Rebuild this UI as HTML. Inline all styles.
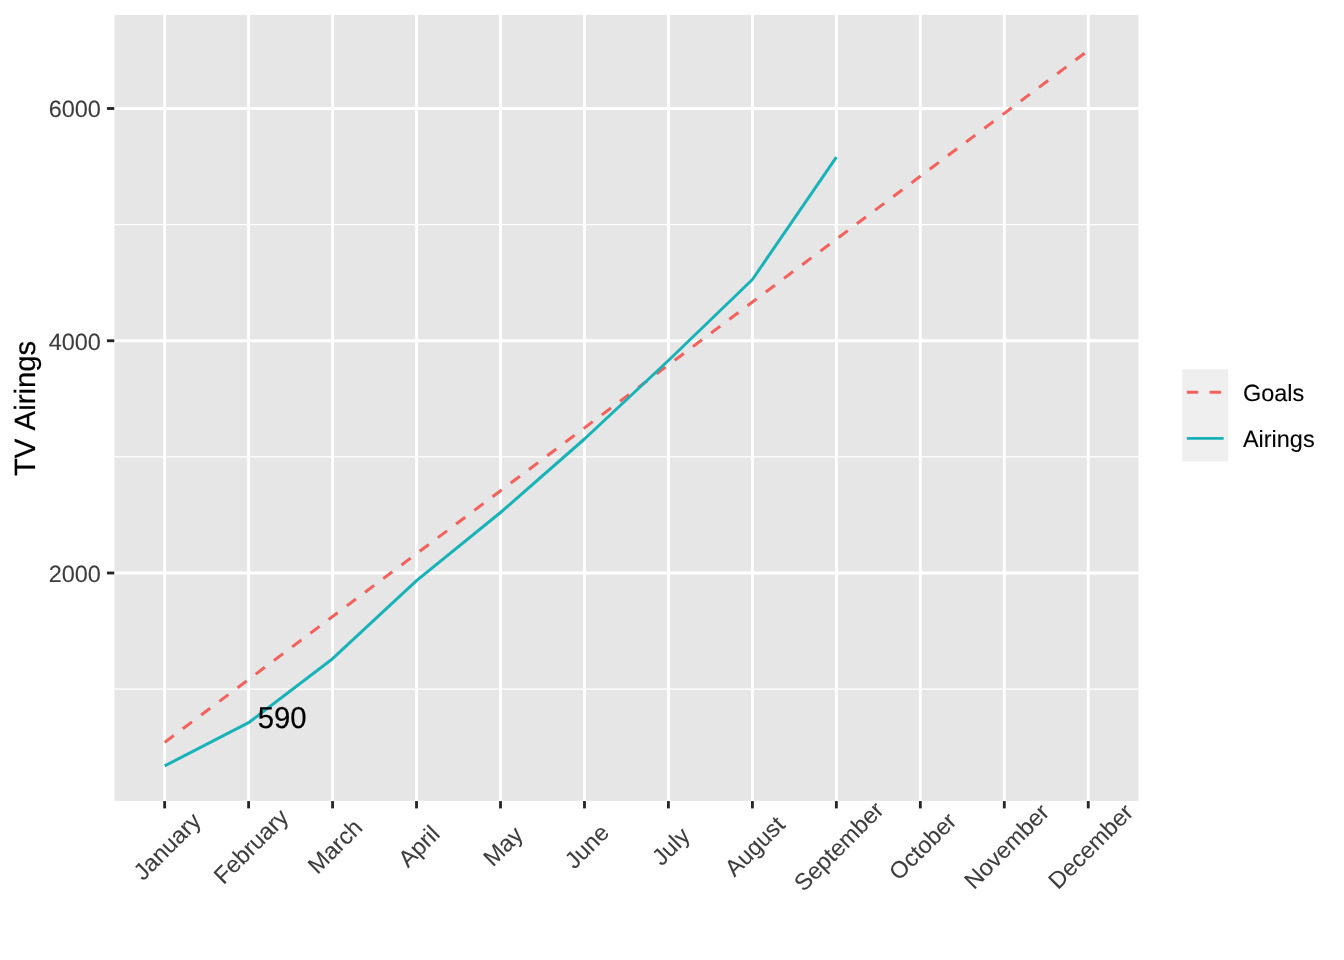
<!DOCTYPE html>
<html lang="en"><head><meta charset="utf-8"><title>TV Airings</title>
<style>html,body{margin:0;padding:0;background:#fff;overflow:hidden}body{width:1344px;height:960px}svg{display:block}text{font-family:"Liberation Sans",sans-serif;font-kerning:none;text-rendering:geometricPrecision;stroke-linejoin:round}</style>
</head><body>
<svg width="1344" height="960" viewBox="0 0 1344 960">
<rect x="0" y="0" width="1344" height="960" fill="#ffffff"/>
<rect x="114.50" y="14.90" width="1023.95" height="785.95" fill="#E6E6E6"/>
<g stroke="#ffffff" stroke-width="1.423" fill="none">
<line x1="114.27" x2="1138.63" y1="689.12" y2="689.12"/>
<line x1="114.27" x2="1138.63" y1="456.88" y2="456.88"/>
<line x1="114.27" x2="1138.63" y1="224.62" y2="224.62"/>
</g>
<g stroke="#ffffff" stroke-width="2.845" fill="none">
<line x1="114.27" x2="1138.63" y1="573.00" y2="573.00"/>
<line x1="114.27" x2="1138.63" y1="340.75" y2="340.75"/>
<line x1="114.27" x2="1138.63" y1="108.50" y2="108.50"/>
<line x1="164.65" x2="164.65" y1="14.67" y2="801.07"/>
<line x1="248.61" x2="248.61" y1="14.67" y2="801.07"/>
<line x1="332.58" x2="332.58" y1="14.67" y2="801.07"/>
<line x1="416.54" x2="416.54" y1="14.67" y2="801.07"/>
<line x1="500.51" x2="500.51" y1="14.67" y2="801.07"/>
<line x1="584.47" x2="584.47" y1="14.67" y2="801.07"/>
<line x1="668.43" x2="668.43" y1="14.67" y2="801.07"/>
<line x1="752.40" x2="752.40" y1="14.67" y2="801.07"/>
<line x1="836.36" x2="836.36" y1="14.67" y2="801.07"/>
<line x1="920.33" x2="920.33" y1="14.67" y2="801.07"/>
<line x1="1004.29" x2="1004.29" y1="14.67" y2="801.07"/>
<line x1="1088.25" x2="1088.25" y1="14.67" y2="801.07"/>
</g>
<polyline points="164.65,742.35 248.61,679.45 332.58,616.55 416.54,553.65 500.51,490.74 584.47,427.84 668.43,364.94 752.40,302.04 836.36,239.14 920.33,176.24 1004.29,113.34 1088.25,50.44" fill="none" stroke="#F5605B" stroke-width="3.000" stroke-dasharray="11.380 11.380" stroke-linecap="butt" stroke-linejoin="round"/>
<polyline points="164.65,765.90 248.61,722.70 332.58,658.70 416.54,580.70 500.51,512.50 584.47,439.00 668.43,360.50 752.40,279.50 836.36,157.10" fill="none" stroke="#18B3B8" stroke-width="3.000" stroke-linecap="butt" stroke-linejoin="round"/>
<text transform="translate(257.70 728.20) scale(1 1.03)" font-size="29.33px" fill="#000000" stroke="#000000" stroke-width="0.2">590</text>
<g stroke="#262626" stroke-width="2.845" fill="none">
<line x1="106.94" x2="114.27" y1="573.00" y2="573.00"/>
<line x1="106.94" x2="114.27" y1="340.75" y2="340.75"/>
<line x1="106.94" x2="114.27" y1="108.50" y2="108.50"/>
<line x1="164.65" x2="164.65" y1="801.07" y2="808.40"/>
<line x1="248.61" x2="248.61" y1="801.07" y2="808.40"/>
<line x1="332.58" x2="332.58" y1="801.07" y2="808.40"/>
<line x1="416.54" x2="416.54" y1="801.07" y2="808.40"/>
<line x1="500.51" x2="500.51" y1="801.07" y2="808.40"/>
<line x1="584.47" x2="584.47" y1="801.07" y2="808.40"/>
<line x1="668.43" x2="668.43" y1="801.07" y2="808.40"/>
<line x1="752.40" x2="752.40" y1="801.07" y2="808.40"/>
<line x1="836.36" x2="836.36" y1="801.07" y2="808.40"/>
<line x1="920.33" x2="920.33" y1="801.07" y2="808.40"/>
<line x1="1004.29" x2="1004.29" y1="801.07" y2="808.40"/>
<line x1="1088.25" x2="1088.25" y1="801.07" y2="808.40"/>
</g>
<g font-size="23.47px" fill="#3D3D3D" stroke="#3D3D3D" stroke-width="0.1" text-anchor="end">
<text x="100.90" y="582.40">2000</text>
<text x="100.90" y="350.10">4000</text>
<text x="100.90" y="116.90">6000</text>
</g>
<g font-size="23.47px" fill="#3D3D3D" stroke="#3D3D3D" stroke-width="0.1" text-anchor="middle">
<text transform="translate(166.75 846.00) rotate(-45)" x="0" y="8.40">January</text>
<text transform="translate(250.71 846.00) rotate(-45)" x="0" y="8.40">February</text>
<text transform="translate(334.68 846.00) rotate(-45)" x="0" y="8.40">March</text>
<text transform="translate(418.64 846.00) rotate(-45)" x="0" y="8.40">April</text>
<text transform="translate(502.61 846.00) rotate(-45)" x="0" y="8.40">May</text>
<text transform="translate(586.57 846.00) rotate(-45)" x="0" y="8.40">June</text>
<text transform="translate(670.53 846.00) rotate(-45)" x="0" y="8.40">July</text>
<text transform="translate(754.50 846.00) rotate(-45)" x="0" y="8.40">August</text>
<text transform="translate(838.46 846.00) rotate(-45)" x="0" y="8.40">September</text>
<text transform="translate(922.43 846.00) rotate(-45)" x="0" y="8.40">October</text>
<text transform="translate(1006.39 846.00) rotate(-45)" x="0" y="8.40">November</text>
<text transform="translate(1090.35 846.00) rotate(-45)" x="0" y="8.40">December</text>
</g>
<text transform="translate(35.10 408.40) rotate(-90) scale(1 1.0)" text-anchor="middle" font-size="29.33px" fill="#000000" stroke="#000000" stroke-width="0.2">TV Airings</text>
<rect x="1182.20" y="369.20" width="46.08" height="92.16" fill="#EFEFEF"/>
<line x1="1186.81" x2="1223.67" y1="392.24" y2="392.24" stroke="#F5605B" stroke-width="2.845" stroke-dasharray="11.380 11.380"/>
<line x1="1186.81" x2="1223.67" y1="438.32" y2="438.32" stroke="#18B3B8" stroke-width="2.845"/>
<g font-size="23.47px" fill="#000000" stroke="#000000" stroke-width="0.1">
<text x="1242.90" y="400.84">Goals</text>
<text x="1242.90" y="446.92">Airings</text>
</g>
</svg></body></html>
